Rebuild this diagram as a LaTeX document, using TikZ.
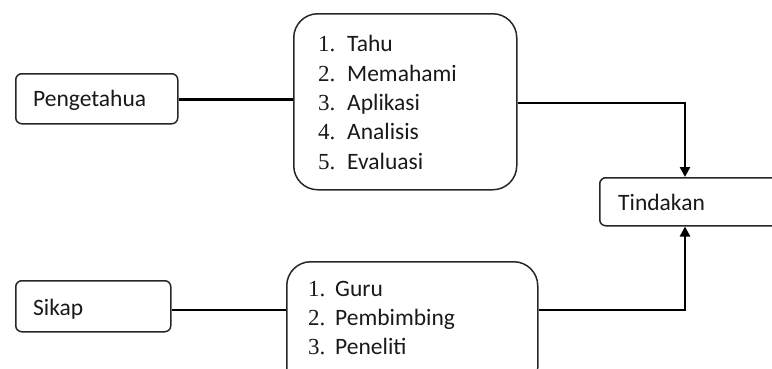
\documentclass[tikz,border=0pt]{standalone}
\usepackage{fontspec}
\setmainfont{Carlito}
\newfontfamily\numfont{Liberation Serif}
\usetikzlibrary{arrows.meta}
\begin{document}
\begin{tikzpicture}[x=1pt,y=-1pt,
  box/.style={draw=black!85, line width=1.5pt, rounded corners=6pt, inner sep=0pt, anchor=north west},
  listbox/.style={draw=black!85, line width=1.5pt, rounded corners=24pt, inner sep=0pt, anchor=north west},
  lbl/.style={anchor=base west, inner sep=0pt, font=\fontsize{23.5}{28}\selectfont, text=black!90},
  num/.style={anchor=base west, inner sep=0pt, font=\numfont\fontsize{23}{28}\selectfont, text=black!90},
  conn/.style={line width=2.4pt, black},
  arr/.style={conn, -{Triangle[length=10pt,width=10pt]}}]
\useasboundingbox (0,0) rectangle (772,368);
\clip (0,0) rectangle (772,368);
% boxes
\node[box, minimum width=162pt, minimum height=50pt] (pen) at (15,73) {};
\node[box, minimum width=155pt, minimum height=51pt] (sik) at (15,280) {};
\node[listbox, minimum width=223pt, minimum height=176pt] (l1) at (293,13) {};
\node[listbox, minimum width=251pt, minimum height=130pt] (l2) at (286,261) {};
\node[box, minimum width=200pt, minimum height=48pt] (tin) at (599,177) {};
% labels
\node[lbl] (tpen) at (33,106) {Pengetahua};
\node[lbl] (tsik) at (33,315) {Sikap};
\node[lbl] (ttin) at (618,210) {Tindakan};
% list 1
\node[num] (n11) at (318,51.7) {1.};
\node[lbl] (w11) at (347,51.7) {Tahu};
\node[num] (n12) at (318,81) {2.};
\node[lbl] (w12) at (347,81) {Memahami};
\node[num] (n13) at (318,110.4) {3.};
\node[lbl] (w13) at (347,110.4) {Aplikasi};
\node[num] (n14) at (318,139.7) {4.};
\node[lbl] (w14) at (347,139.7) {Analisis};
\node[num] (n15) at (318,169) {5.};
\node[lbl] (w15) at (347,169) {Evaluasi};
% list 2
\node[num] (n21) at (308,296) {1.};
\node[lbl] (w21) at (335,296) {Guru};
\node[num] (n22) at (308,325) {2.};
\node[lbl] (w22) at (335,325) {Pembimbing};
\node[num] (n23) at (308,354) {3.};
\node[lbl] (w23) at (335,354) {Peneliti};
% connectors
\draw[conn] (pen.east |- 0,99.3) -- (l1.west |- 0,99.3);
\draw[conn] (sik.east |- 0,310) -- (l2.west |- 0,310);
\draw[arr] (l1.east |- 0,103) -| (tin.north -| 685,0);
\draw[arr] (l2.east |- 0,310) -| (tin.south -| 685,0);
\end{tikzpicture}
\end{document}
